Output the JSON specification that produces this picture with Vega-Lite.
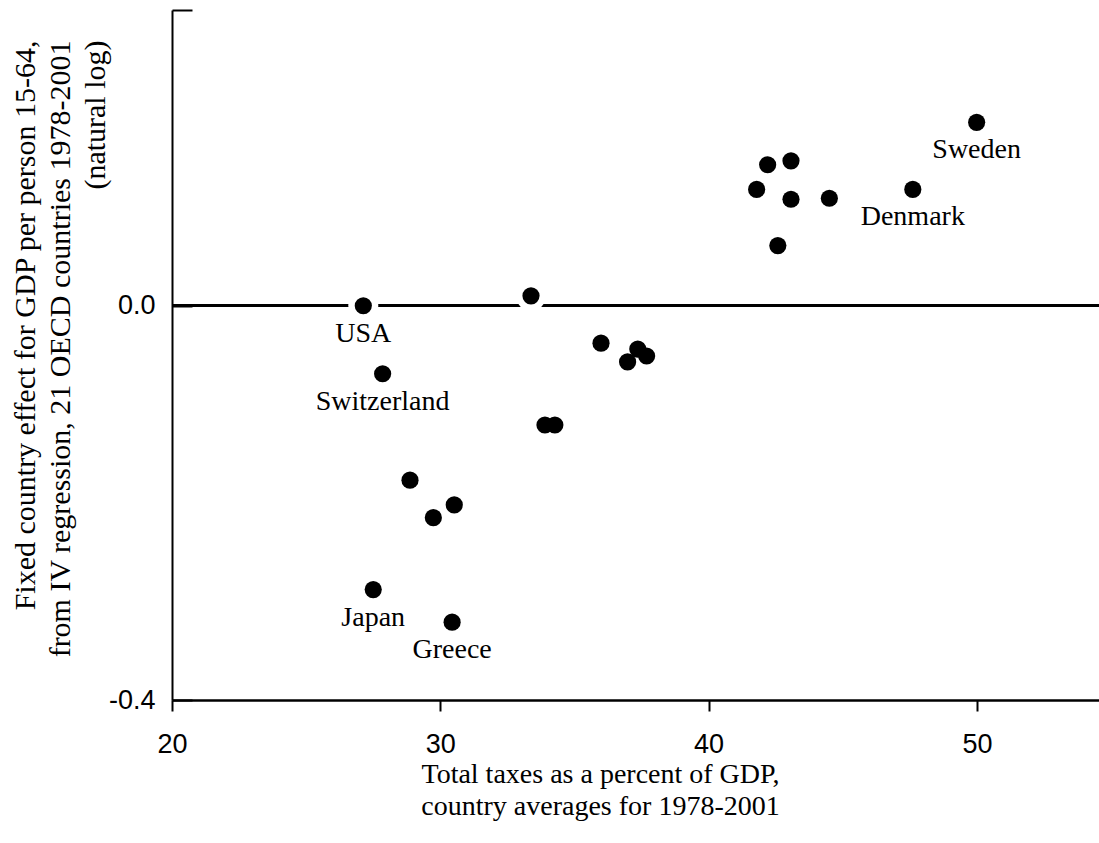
{
  "$schema": "https://vega.github.io/schema/vega-lite/v6.json",
  "width": 927,
  "height": 690,
  "autosize": {"type": "none"},
  "padding": {"left": 172, "top": 10, "right": 0, "bottom": 143},
  "background": "white",
  "config": {"view": {"stroke": null}},
  "data": {
    "values": [
      {"tax": 27.13, "effect": 0.0, "country": "USA"},
      {"tax": 33.38, "effect": 0.010, "country": ""},
      {"tax": 35.99, "effect": -0.038, "country": ""},
      {"tax": 37.36, "effect": -0.044, "country": ""},
      {"tax": 37.69, "effect": -0.051, "country": ""},
      {"tax": 36.98, "effect": -0.057, "country": ""},
      {"tax": 27.85, "effect": -0.069, "country": "Switzerland"},
      {"tax": 33.90, "effect": -0.121, "country": ""},
      {"tax": 34.27, "effect": -0.121, "country": ""},
      {"tax": 28.87, "effect": -0.177, "country": ""},
      {"tax": 30.52, "effect": -0.202, "country": ""},
      {"tax": 29.74, "effect": -0.215, "country": ""},
      {"tax": 27.50, "effect": -0.288, "country": "Japan"},
      {"tax": 30.44, "effect": -0.321, "country": "Greece"},
      {"tax": 49.99, "effect": 0.186, "country": "Sweden"},
      {"tax": 43.07, "effect": 0.147, "country": ""},
      {"tax": 42.20, "effect": 0.143, "country": ""},
      {"tax": 41.79, "effect": 0.118, "country": ""},
      {"tax": 43.07, "effect": 0.108, "country": ""},
      {"tax": 44.50, "effect": 0.109, "country": ""},
      {"tax": 47.61, "effect": 0.118, "country": "Denmark"},
      {"tax": 42.58, "effect": 0.061, "country": ""}
    ]
  },
  "encoding": {
    "x": {
      "field": "tax",
      "type": "quantitative",
      "scale": {"domain": [20, 54.55], "nice": false, "zero": false},
      "axis": {
        "values": [20, 30, 40, 50],
        "grid": false,
        "domainColor": "black",
        "domainWidth": 2.5,
        "tickColor": "black",
        "tickWidth": 2,
        "tickSize": 11,
        "labelFont": "Liberation Sans",
        "labelFontSize": 27,
        "labelColor": "black",
        "labelPadding": 20,
        "labelFlush": false,
        "title": ["Total taxes as a percent of GDP,", "country averages for 1978-2001"],
        "titleFont": "Liberation Serif",
        "titleFontSize": 28,
        "titleFontWeight": "normal",
        "titleColor": "black",
        "titleLineHeight": 32,
        "titleAlign": "center",
        "titleBaseline": "top",
        "titleX": 428,
        "titleY": 60
      }
    },
    "y": {
      "field": "effect",
      "type": "quantitative",
      "scale": {"domain": [-0.4, 0.3], "nice": false, "zero": false},
      "axis": {
        "values": [-0.4, 0, 0.3],
        "format": ".1f",
        "labelExpr": "datum.value > 0.2 ? '' : replace(datum.label, '\u2212', '-')",
        "grid": false,
        "domainColor": "black",
        "domainWidth": 2,
        "tickColor": "black",
        "tickWidth": 2,
        "tickSize": -20,
        "labelFont": "Liberation Sans",
        "labelFontSize": 27,
        "labelColor": "black",
        "labelPadding": 37,
        "labelFlush": false,
        "title": ["Fixed country effect for GDP per person 15-64,", "from IV regression, 21 OECD countries 1978-2001", "(natural log)"],
        "titleFont": "Liberation Serif",
        "titleFontSize": 30,
        "titleFontWeight": "normal",
        "titleColor": "black",
        "titleLineHeight": 35,
        "titleAngle": 270,
        "titleAlign": "right",
        "titleBaseline": "top",
        "titleX": -162,
        "titleY": 30
      }
    }
  },
  "layer": [
    {
      "mark": {"type": "rule", "color": "black", "strokeWidth": 2},
      "encoding": {"y": {"datum": 0}, "x": null}
    },
    {
      "mark": {"type": "point", "shape": "circle", "filled": true, "color": "white", "opacity": 1, "size": 900}
    },
    {
      "mark": {"type": "point", "shape": "circle", "filled": true, "color": "black", "opacity": 1, "size": 295}
    },
    {
      "mark": {"type": "text", "font": "Liberation Serif", "fontSize": 28, "color": "black", "align": "center", "baseline": "middle", "dy": 28},
      "encoding": {"text": {"field": "country"}}
    }
  ]
}
